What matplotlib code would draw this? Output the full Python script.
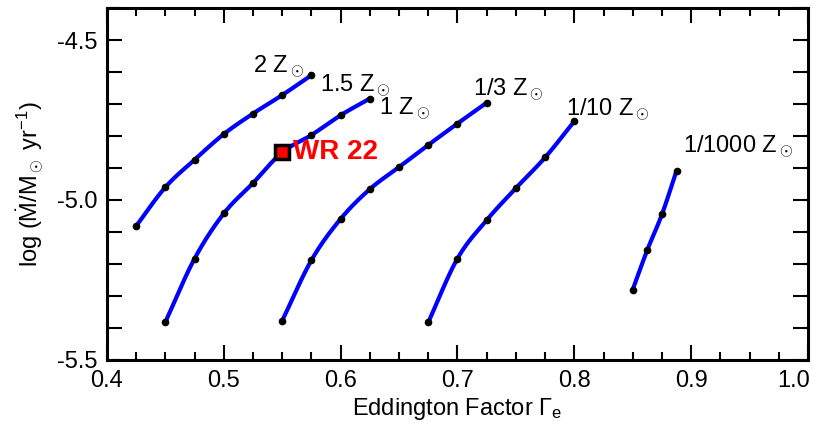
import numpy as np
import matplotlib
matplotlib.use("Agg")
import matplotlib.pyplot as plt
import matplotlib.transforms as mtransforms
from matplotlib.ticker import MultipleLocator, FixedLocator, FixedFormatter

plt.rcParams['font.family'] = ['Liberation Sans', 'DejaVu Sans']
plt.rcParams['mathtext.fontset'] = 'custom'
plt.rcParams['mathtext.rm'] = 'Liberation Sans'
plt.rcParams['mathtext.it'] = 'Liberation Sans:italic'
plt.rcParams['mathtext.bf'] = 'Liberation Sans:bold'

# Mass-loss tracks (Eddington factor vs log Mdot) for each metallicity
gamma_a = [0.425, 0.45, 0.475, 0.50, 0.525, 0.55, 0.575]
mdot_a = [-5.081, -4.960, -4.874, -4.794, -4.730, -4.672, -4.610]

gamma_b = [0.45, 0.475, 0.50, 0.525, 0.55, 0.575, 0.60, 0.625]
mdot_b = [-5.381, -5.183, -5.042, -4.947, -4.851, -4.797, -4.735, -4.683]

gamma_c = [0.55, 0.575, 0.60, 0.625, 0.65, 0.675, 0.70, 0.725]
mdot_c = [-5.377, -5.188, -5.059, -4.966, -4.897, -4.828, -4.761, -4.696]

gamma_d = [0.675, 0.70, 0.725, 0.75, 0.775, 0.80]
mdot_d = [-5.382, -5.183, -5.063, -4.963, -4.867, -4.754]

gamma_e = [0.85, 0.8625, 0.875, 0.8875]
mdot_e = [-5.280, -5.156, -5.045, -4.909]

tracks = [(gamma_a, mdot_a), (gamma_b, mdot_b), (gamma_c, mdot_c),
          (gamma_d, mdot_d), (gamma_e, mdot_e)]

# Metallicity labels and their anchor positions (data coords)
z_labels = [r'2 Z$_\odot$', r'1.5 Z$_\odot$', r'1 Z$_\odot$',
            r'1/3 Z$_\odot$', r'1/10 Z$_\odot$', r'1/1000 Z$_\odot$']
z_label_x = [0.525, 0.582, 0.633, 0.713, 0.793, 0.893]
z_label_y = [-4.584, -4.641, -4.713, -4.655, -4.718, -4.832]

# WR 22 observed position
wr22_gamma = 0.55
wr22_mdot = -4.851
wr22_name = 'WR 22'


def smooth_path(x, y, n=20):
    """Catmull-Rom curve through the given points for a smooth track line."""
    x = np.asarray(x, float)
    y = np.asarray(y, float)
    px = np.concatenate([[2 * x[0] - x[1]], x, [2 * x[-1] - x[-2]]])
    py = np.concatenate([[2 * y[0] - y[1]], y, [2 * y[-1] - y[-2]]])
    t = np.linspace(0, 1, n, endpoint=False)[:, None]
    segs_x, segs_y = [], []
    for i in range(1, len(px) - 2):
        for arr, out in ((px, segs_x), (py, segs_y)):
            p0, p1, p2, p3 = arr[i - 1], arr[i], arr[i + 1], arr[i + 2]
            out.append((0.5 * ((2 * p1) + (-p0 + p2) * t
                               + (2 * p0 - 5 * p1 + 4 * p2 - p3) * t ** 2
                               + (-p0 + 3 * p1 - 3 * p2 + p3) * t ** 3)).ravel())
    sx = np.concatenate(segs_x + [[x[-1]]])
    sy = np.concatenate(segs_y + [[y[-1]]])
    return sx, sy


fig = plt.figure(figsize=(8.13, 4.28), dpi=100)
ax = fig.add_axes([0.1316, 0.1589, 0.8622, 0.8224])

for gx, my in tracks:
    sx, sy = smooth_path(gx, my)
    ax.plot(sx, sy, color='#0000ff', lw=3.0, solid_capstyle='round',
            solid_joinstyle='round', zorder=2)
    ax.plot(gx, my, 'o', color='black', ms=4.5, zorder=3)

for lab, lx, ly in zip(z_labels, z_label_x, z_label_y):
    ax.text(lx, ly, lab, fontsize=17, ha='left', va='center', color='black')

ax.plot([wr22_gamma], [wr22_mdot], 's', ms=10, mfc='red', mec='black',
        mew=2.5, zorder=4)
ax.text(wr22_gamma + 0.009, wr22_mdot, wr22_name, color='red', fontsize=20,
        fontweight='bold', ha='left', va='center')

ax.set_xlim(0.4, 1.0)
ax.set_ylim(-5.5, -4.4)

xt = [0.4, 0.5, 0.6, 0.7, 0.8, 0.9, 1.0]
xlab = ['0.4', '0.5', '0.6', '0.7', '0.8', '0.9', '1.0']
ax.xaxis.set_major_locator(FixedLocator(xt))
ax.xaxis.set_major_formatter(FixedFormatter(xlab))
ax.xaxis.set_minor_locator(MultipleLocator(0.025))

yt = [-5.5, -5.4, -5.3, -5.2, -5.1, -5.0, -4.9, -4.8, -4.7, -4.6, -4.5, -4.4]
ylab = ['-5.5', '', '', '', '', '-5.0', '', '', '', '', '-4.5', '']
ax.yaxis.set_major_locator(FixedLocator(yt))
ax.yaxis.set_major_formatter(FixedFormatter(ylab))

ax.tick_params(which='both', direction='in', top=True, right=True, width=1.5,
               labelsize=17)
ax.tick_params(which='major', length=11, pad=7)
ax.tick_params(which='minor', length=6)

for s in ax.spines.values():
    s.set_linewidth(2.2)

# keep the last x tick label inside the figure
fig.canvas.draw()
last = ax.get_xticklabels()[-1]
last.set_horizontalalignment('right')
last.set_transform(last.get_transform()
                   + mtransforms.ScaledTranslation(0.02, 0, fig.dpi_scale_trans))

ax.set_xlabel(r'Eddington Factor $\Gamma_{\rm e}$', fontsize=17, labelpad=3)
ax.set_ylabel(r'log ($\dot{\rm M}$/M$_\odot$ yr$^{-1}$)', fontsize=17, labelpad=8)

fig.savefig('out.png', dpi=100)
